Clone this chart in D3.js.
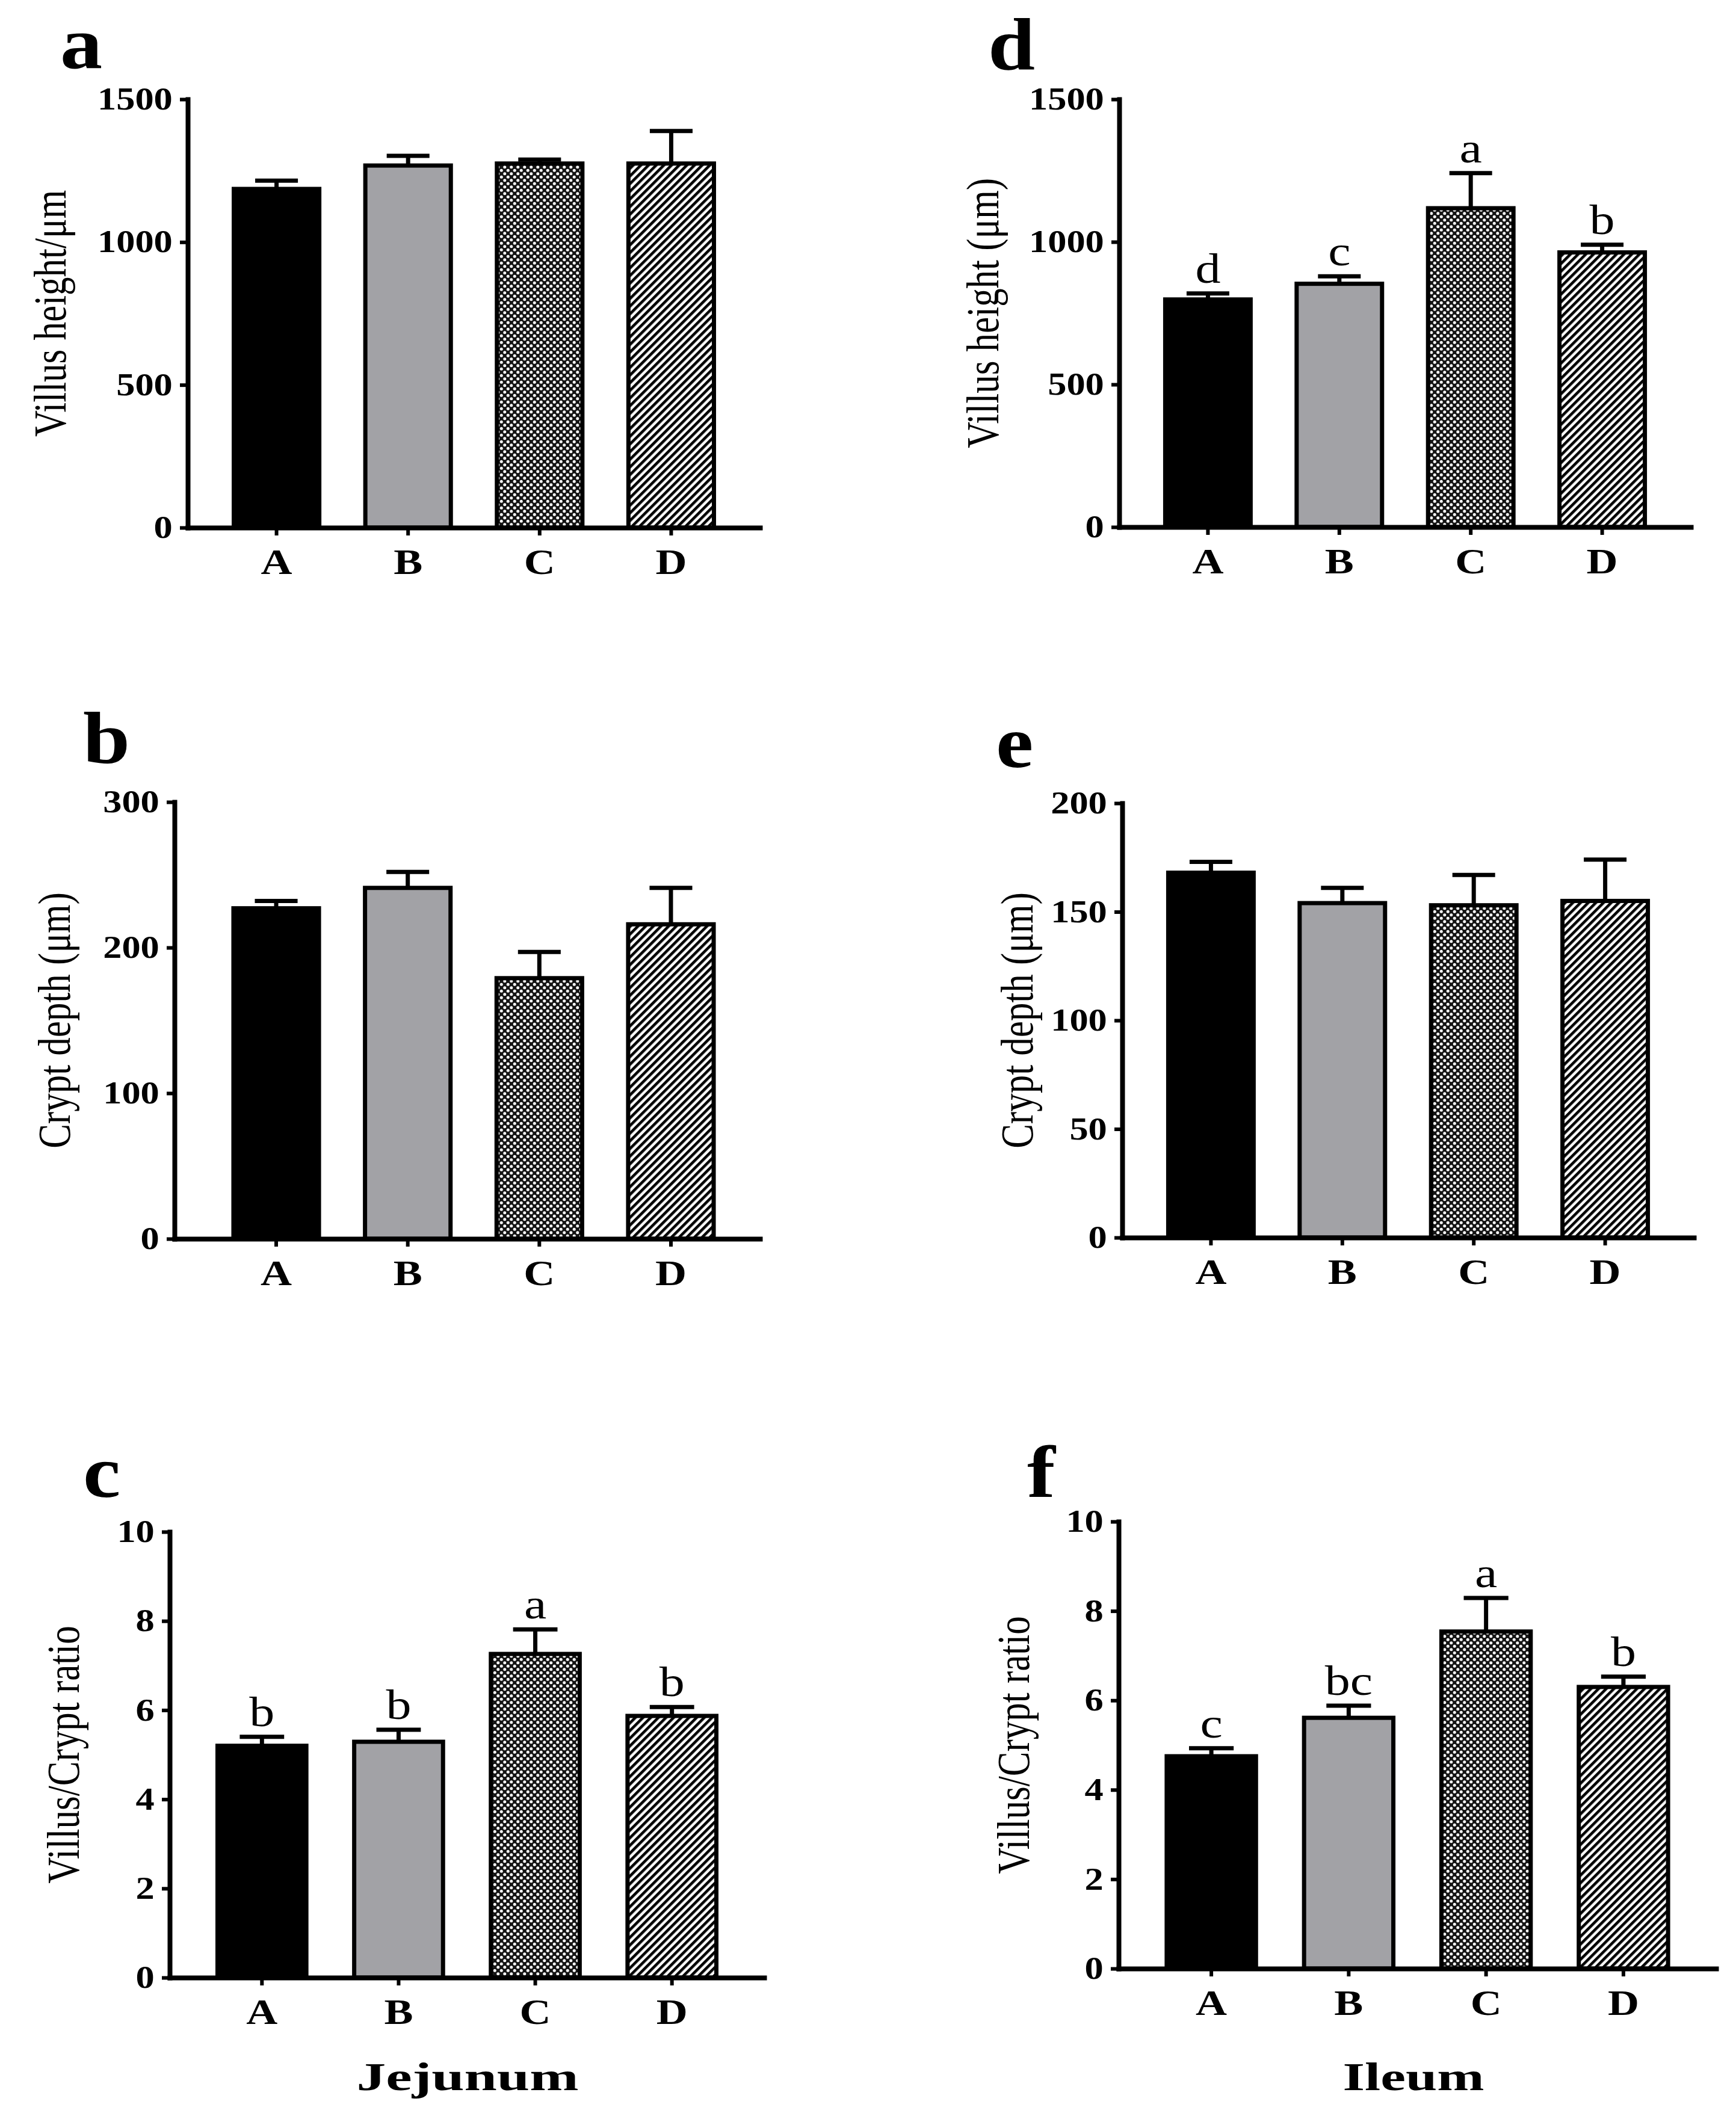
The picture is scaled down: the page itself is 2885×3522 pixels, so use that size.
<!DOCTYPE html>
<html>
<head>
<meta charset="utf-8">
<script src="https://cdn.jsdelivr.net/npm/d3@7"></script>
<style>
body { margin: 0; background: #fff; }
</style>
</head>
<body>
<script>
// groups on the x axis
const groups = ["A", "B", "C", "D"];

// Jejunum
const jejVillus = [1186, 1268, 1275, 1275];
const jejVillusErr = [29, 34, 14, 114];
const jejCrypt = [227, 241, 179, 216];
const jejCryptErr = [5, 11, 18, 25];
const jejRatio = [5.2, 5.29, 7.26, 5.87];
const jejRatioErr = [0.2, 0.27, 0.55, 0.2];
const jejRatioSig = ["b", "b", "a", "b"];

// Ileum
const ilVillus = [798, 853, 1118, 963];
const ilVillusErr = [21, 26, 123, 27];
const ilVillusSig = ["d", "c", "a", "b"];
const ilCrypt = [168, 154, 153, 155];
const ilCryptErr = [5, 7, 14, 19];
const ilRatio = [4.75, 5.61, 7.54, 6.30];
const ilRatioErr = [0.18, 0.27, 0.75, 0.23];
const ilRatioSig = ["c", "bc", "a", "b"];

// tick labels
const villusTicks = [0, 500, 1000, 1500];
const jejCryptTicks = [0, 100, 200, 300];
const ilCryptTicks = [0, 50, 100, 150, 200];
const ratioTicks = [0, 2, 4, 6, 8, 10];

const width = 2885, height = 3522;
const serif = "'Liberation Serif', 'DejaVu Serif', serif";
const stretch = 1.2; // the source figure is a little wider than tall

const panels = [
    {tag: "a", values: jejVillus, err: jejVillusErr, sig: null, max: 1500, ticks: villusTicks,
     title: "Villus height/\u03bcm", x0: 312, x1: 1263, yTop: 165, yBot: 877,
     tagX: 100, tagY: 113, titleX: 83},
    {tag: "b", values: jejCrypt, err: jejCryptErr, sig: null, max: 300, ticks: jejCryptTicks,
     title: "Crypt depth (\u03bcm)", x0: 290, x1: 1263, yTop: 1333, yBot: 2059,
     tagX: 138, tagY: 1268, titleX: 90, pad: 0.4, align: 0.56},
    {tag: "c", values: jejRatio, err: jejRatioErr, sig: jejRatioSig, max: 10, ticks: ratioTicks,
     title: "Villus/Crypt ratio", x0: 282, x1: 1270, yTop: 2546, yBot: 3287,
     tagX: 138, tagY: 2488, titleX: 105},
    {tag: "d", values: ilVillus, err: ilVillusErr, sig: ilVillusSig, max: 1500, ticks: villusTicks,
     title: "Villus height (\u03bcm)", x0: 1860, x1: 2810, yTop: 165, yBot: 876,
     tagX: 1642, tagY: 115, titleX: 1633},
    {tag: "e", values: ilCrypt, err: ilCryptErr, sig: null, max: 200, ticks: ilCryptTicks,
     title: "Crypt depth (\u03bcm)", x0: 1865, x1: 2815, yTop: 1335, yBot: 2057,
     tagX: 1655, tagY: 1275, titleX: 1690},
    {tag: "f", values: ilRatio, err: ilRatioErr, sig: ilRatioSig, max: 10, ticks: ratioTicks,
     title: "Villus/Crypt ratio", x0: 1859, x1: 2852, yTop: 2529, yBot: 3272,
     tagX: 1707, tagY: 2488, titleX: 1684}
];

const svg = d3.select("body").append("svg")
    .attr("width", width)
    .attr("height", height)
    .attr("viewBox", [0, 0, width, height]);

const defs = svg.append("defs");

// checker fill for group C
const checker = defs.append("pattern")
    .attr("id", "checker")
    .attr("patternUnits", "userSpaceOnUse")
    .attr("width", 11).attr("height", 11);
checker.append("rect").attr("width", 11).attr("height", 11).attr("fill", "#151515");
checker.append("circle").attr("cx", 2.75).attr("cy", 2.75).attr("r", 2.5).attr("fill", "#fff");
checker.append("circle").attr("cx", 8.25).attr("cy", 8.25).attr("r", 2.5).attr("fill", "#fff");

// diagonal hatch for group D
const hatch = defs.append("pattern")
    .attr("id", "hatch")
    .attr("patternUnits", "userSpaceOnUse")
    .attr("width", 9).attr("height", 9)
    .attr("patternTransform", "rotate(45)");
hatch.append("rect").attr("width", 9).attr("height", 9).attr("fill", "#fff");
hatch.append("rect").attr("width", 4.6).attr("height", 9).attr("fill", "#000");

const fills = ["#000", "#a2a2a6", "url(#checker)", "url(#hatch)"];

panels.forEach(p => {
    const g = svg.append("g");

    const x = d3.scaleBand()
        .domain(groups)
        .range([p.x0, p.x1])
        .paddingInner(0.35)
        .paddingOuter(p.pad || 0.35)
        .align(p.align || 0.5);

    const y = d3.scaleLinear()
        .domain([0, p.max])
        .range([p.yBot, p.yTop]);

    const rows = groups.map((k, i) => ({
        key: k, v: p.values[i], e: p.err[i], s: p.sig ? p.sig[i] : null, fill: fills[i]
    }));

    // error bars (upper only)
    const eb = g.append("g")
        .attr("stroke", "#000")
        .attr("stroke-width", 7);
    eb.selectAll("line.stem")
        .data(rows)
        .join("line")
        .attr("class", "stem")
        .attr("x1", d => x(d.key) + x.bandwidth() / 2)
        .attr("x2", d => x(d.key) + x.bandwidth() / 2)
        .attr("y1", d => y(d.v))
        .attr("y2", d => y(d.v + d.e));
    eb.selectAll("line.cap")
        .data(rows)
        .join("line")
        .attr("class", "cap")
        .attr("x1", d => x(d.key) + x.bandwidth() * 0.25)
        .attr("x2", d => x(d.key) + x.bandwidth() * 0.75)
        .attr("y1", d => y(d.v + d.e))
        .attr("y2", d => y(d.v + d.e));

    // bars
    g.append("g")
        .selectAll("rect")
        .data(rows)
        .join("rect")
        .attr("x", d => x(d.key))
        .attr("y", d => y(d.v))
        .attr("width", x.bandwidth())
        .attr("height", d => y(0) - y(d.v))
        .attr("fill", d => d.fill)
        .attr("stroke", "#000")
        .attr("stroke-width", 7);

    // significance letters
    if (p.sig) {
        g.append("g")
            .selectAll("text")
            .data(rows)
            .join("text")
            .attr("transform", d => `translate(${x(d.key) + x.bandwidth() / 2},${y(d.v + d.e) - 18}) scale(${stretch},1)`)
            .attr("text-anchor", "middle")
            .attr("font-family", serif)
            .attr("font-size", 70)
            .text(d => d.s);
    }

    // y axis
    const ya = g.append("g")
        .attr("transform", `translate(${p.x0},0)`)
        .call(d3.axisLeft(y).tickValues(p.ticks).tickFormat(d3.format("d"))
            .tickSize(13).tickSizeOuter(0).tickPadding(8));
    ya.select(".domain").attr("stroke-width", 8).attr("stroke-linecap", "square");
    ya.selectAll(".tick line").attr("stroke-width", 6);
    ya.selectAll(".tick text")
        .attr("transform", `scale(${stretch},1)`)
        .attr("font-family", serif)
        .attr("font-weight", "bold")
        .attr("font-size", 52)
        .attr("fill", "#000");

    // x axis
    const xa = g.append("g")
        .attr("transform", `translate(0,${p.yBot})`)
        .call(d3.axisBottom(x).tickSize(13).tickSizeOuter(0).tickPadding(21));
    xa.select(".domain").attr("stroke-width", 8).attr("stroke-linecap", "square");
    xa.selectAll(".tick line").attr("stroke-width", 6);
    xa.selectAll(".tick text")
        .attr("transform", `scale(${stretch},1)`)
        .attr("font-family", serif)
        .attr("font-weight", "bold")
        .attr("font-size", 60)
        .attr("fill", "#000");

    // y title
    g.append("text")
        .attr("transform", `translate(${p.titleX},${(p.yTop + p.yBot) / 2}) scale(1.25,1) rotate(-90)`)
        .attr("text-anchor", "middle")
        .attr("dominant-baseline", "central")
        .attr("font-family", serif)
        .attr("font-size", 61)
        .text(p.title);

    // panel tag
    g.append("text")
        .attr("transform", `translate(${p.tagX},${p.tagY}) scale(1.15,1)`)
        .attr("font-family", serif)
        .attr("font-weight", "bold")
        .attr("font-size", 122)
        .text(p.tag);
});

// section captions
svg.append("text")
    .attr("x", 777).attr("y", 3474)
    .attr("text-anchor", "middle")
    .attr("font-family", serif)
    .attr("font-weight", "bold")
    .attr("font-size", 66)
    .attr("textLength", 369)
    .attr("lengthAdjust", "spacingAndGlyphs")
    .text("Jejunum");

svg.append("text")
    .attr("x", 2349).attr("y", 3474)
    .attr("text-anchor", "middle")
    .attr("font-family", serif)
    .attr("font-weight", "bold")
    .attr("font-size", 66)
    .attr("textLength", 235)
    .attr("lengthAdjust", "spacingAndGlyphs")
    .text("Ileum");
</script>
</body>
</html>
